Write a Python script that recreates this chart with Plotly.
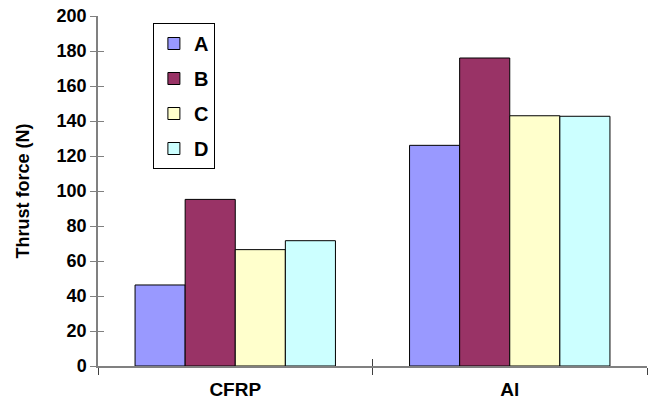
import plotly.graph_objects as go

# Data
materials = ["CFRP", "Al"]
series_names = ["A", "B", "C", "D"]
thrust_a = [46.3, 126.1]
thrust_b = [95.2, 176.0]
thrust_c = [66.5, 143.0]
thrust_d = [71.6, 142.7]
y_ticks = list(range(0, 201, 20))

colors = ["#9999FF", "#993366", "#FFFFCC", "#CCFFFF"]
AXIS_GRAY = "#808080"
FONT = "Liberation Sans, Arial"

fig = go.Figure()

for name, vals, col in zip(series_names, [thrust_a, thrust_b, thrust_c, thrust_d], colors):
    fig.add_trace(go.Bar(
        x=materials,
        y=vals,
        name=name,
        legendgroup=name,
        marker_color=col,
        marker_line_color="black",
        marker_line_width=1,
    ))

# invisible trace on overlaid axes so ticks cross the axis lines
fig.add_trace(go.Scatter(
    x=materials, y=[None, None], xaxis="x2", yaxis="y2",
    showlegend=False, hoverinfo="skip",
))

fig.update_layout(
    width=652,
    height=411,
    margin=dict(l=98, r=5, t=16, b=45, autoexpand=False),
    plot_bgcolor="white",
    paper_bgcolor="white",
    font=dict(family=FONT, size=18, color="black"),
    barmode="group",
    bargap=0.27,
    bargroupgap=0,
    showlegend=True,
    legend=dict(
        x=0.1, y=0.98, xanchor="left", yanchor="top",
        bordercolor="black", borderwidth=1,
        font=dict(size=20, family=FONT, weight="bold"),
        tracegroupgap=6,
        bgcolor="white",
    ),
    xaxis=dict(
        type="category",
        showline=True, linecolor=AXIS_GRAY, linewidth=1.5,
        ticks="outside", tickson="boundaries", ticklen=7, tickcolor="#404040",
        tickfont=dict(size=19, weight="bold"),
        ticklabelstandoff=5,
        showgrid=False,
    ),
    yaxis=dict(
        range=[0, 200],
        tickvals=y_ticks,
        showline=True, linecolor=AXIS_GRAY, linewidth=1.5,
        ticks="outside", ticklen=6, tickcolor=AXIS_GRAY,
        tickfont=dict(size=18, weight="bold"),
        showgrid=False, zeroline=False,
        title=dict(text="Thrust force (N)", font=dict(size=18, weight="bold"), standoff=22),
    ),
    xaxis2=dict(
        type="category", overlaying="x", matches="x",
        ticks="inside", tickson="boundaries", ticklen=7, tickcolor="#404040",
        showticklabels=False, showgrid=False, showline=False,
    ),
    yaxis2=dict(
        overlaying="y", range=[0, 200], tickvals=y_ticks,
        ticks="inside", ticklen=6, tickcolor=AXIS_GRAY,
        showticklabels=False, showgrid=False, zeroline=False, showline=False,
    ),
)

fig.write_html(
    "out.html",
    config={"displayModeBar": False},
    post_script="document.body.style.margin='0';",
)
